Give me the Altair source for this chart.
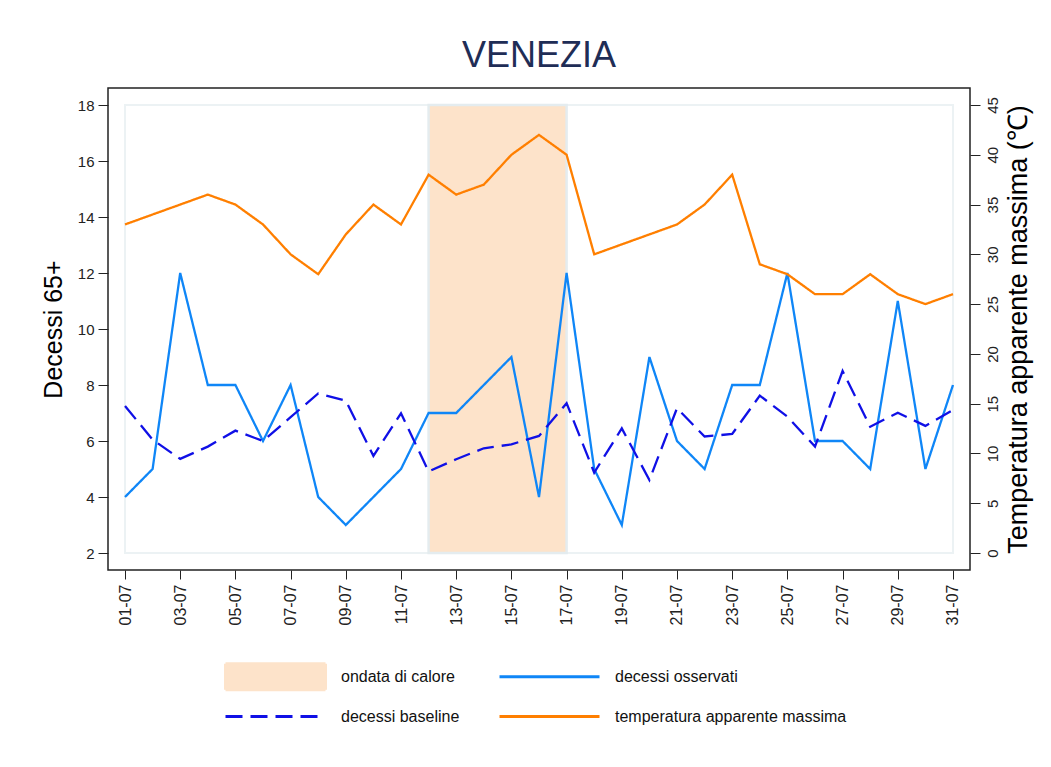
import altair as alt
import pandas as pd

# ---- data ----
days = ["01-07", "02-07", "03-07", "04-07", "05-07", "06-07", "07-07", "08-07",
        "09-07", "10-07", "11-07", "12-07", "13-07", "14-07", "15-07", "16-07",
        "17-07", "18-07", "19-07", "20-07", "21-07", "22-07", "23-07", "24-07",
        "25-07", "26-07", "27-07", "28-07", "29-07", "30-07", "31-07"]
observed = [4, 5, 12, 8, 8, 6, 8, 4, 3, 4, 5, 7, 7, 8, 9, 4, 12, 5, 3, 9, 6, 5,
            8, 8, 12, 6, 6, 5, 11, 5, 8]
baseline = [7.25, 6.05, 5.36, 5.8, 6.37, 6.0, 6.85, 7.7, 7.44, 5.47, 6.99, 4.91,
            5.35, 5.74, 5.88, 6.18, 7.35, 4.87, 6.45, 4.61, 7.17, 6.16, 6.25,
            7.62, 6.87, 5.8, 8.5, 6.51, 7.01, 6.54, 7.11]
temperature = [33, 34, 35, 36, 35, 33, 30, 28, 32, 35, 33, 38, 36, 37, 40, 42,
               40, 30, 31, 32, 33, 35, 38, 29, 28, 26, 26, 28, 26, 25, 26]
tick_days = ["01-07", "03-07", "05-07", "07-07", "09-07", "11-07", "13-07",
             "15-07", "17-07", "19-07", "21-07", "23-07", "25-07", "27-07",
             "29-07", "31-07"]
heatwave_start = ["12-07"]
heatwave_end = ["17-07"]
series_names = ["ondata di calore", "decessi osservati", "decessi baseline",
                "temperatura apparente massima"]
series_colors = ["#fde3ca", "#0f86f7", "#1010e6", "#ff7f00"]
series_dashes = [[1, 0], [1, 0], [17, 8], [1, 0]]
deaths_ticks = [2, 4, 6, 8, 10, 12, 14, 16, 18]
temp_ticks = [0, 5, 10, 15, 20, 25, 30, 35, 40, 45]

# ---- tables ----
deaths_df = pd.concat([
    pd.DataFrame({"giorno": days, "valore": observed, "serie": series_names[1]}),
    pd.DataFrame({"giorno": days, "valore": baseline, "serie": series_names[2]}),
])
temp_df = pd.DataFrame({"giorno": days, "valore": temperature, "serie": series_names[3]})
heat_df = pd.DataFrame({"inizio": heatwave_start, "fine": heatwave_end,
                        "basso": [deaths_ticks[0]], "alto": [deaths_ticks[-1]]})
frame_df = pd.DataFrame({"inizio": [days[0]], "fine": [days[-1]],
                         "basso": [deaths_ticks[0]], "alto": [deaths_ticks[-1]]})

FONT = "Liberation Sans"
INK = "#222222"

x_scale = alt.Scale(type="point", domain=days, padding=0.616)
x_axis = alt.Axis(values=tick_days, title=None, labelAngle=270, labelAlign="right",
                  labelBaseline="middle", labelFontSize=16, labelPadding=5,
                  tickSize=9, labelOverlap=False, domain=False, grid=False)

yl_scale = alt.Scale(domain=[deaths_ticks[0], deaths_ticks[-1]], nice=False, zero=False, padding=17)
yl_axis = alt.Axis(values=deaths_ticks, title="Decessi 65+", titleFontSize=25,
                   titleFontWeight="normal", titleColor="#000", titlePadding=11,
                   labelFontSize=15, labelPadding=4, tickSize=10, domain=False,
                   grid=False, labelOverlap=False)
yr_scale = alt.Scale(domain=[temp_ticks[0], temp_ticks[-1]], nice=False, zero=False, padding=17)
yr_axis = alt.Axis(orient="right", values=temp_ticks,
                   title="Temperatura apparente massima (℃)", titleFontSize=27,
                   titleFontWeight="normal", titleColor="#000", titleAngle=270,
                   titleBaseline="top", titlePadding=5,
                   labelAngle=270, labelAlign="center", labelBaseline="top",
                   labelFontSize=15, labelPadding=5, tickSize=10, domain=False,
                   grid=False, labelOverlap=False)

# legend swatches: a wide line (with the same bounding box as the rectangle) and a wide rectangle
LINE_PATH = "M-5,-1.3M-5,1.3M-5,0H5"
RECT_PATH = "M-5,-1.3H5V1.3H-5Z"
is_heat = "datum.value === 'ondata di calore'"
legend = alt.Legend(
    title=None, orient="none", legendX=118, legendY=577, columns=2,
    direction="horizontal", padding=0,
    symbolType={"expr": f"{is_heat} ? '{RECT_PATH}' : '{LINE_PATH}'"},
    symbolFillColor={"expr": f"{is_heat} ? '{series_colors[0]}' : 'transparent'"},
    symbolSize=400, symbolStrokeWidth=3, symbolOffset=38,
    labelOffset=54, labelFontSize=16, labelFont=FONT, labelColor="#111",
    labelLimit=400, rowPadding=1, columnPadding=33,
)
color_enc = alt.Color("serie:N", scale=alt.Scale(domain=series_names, range=series_colors), legend=legend)
dash_enc = alt.StrokeDash("serie:N", scale=alt.Scale(domain=series_names, range=series_dashes), legend=legend)

frame = alt.Chart(frame_df).mark_rect(fill="transparent", stroke="#ecf2f4", strokeWidth=2).encode(
    x=alt.X("inizio:O", scale=x_scale, axis=x_axis), x2="fine",
    y=alt.Y("basso:Q", scale=yl_scale, axis=yl_axis), y2="alto",
)
heat = alt.Chart(heat_df).mark_rect(fill=series_colors[0], stroke="#e4ecef", strokeWidth=2.5).encode(
    x=alt.X("inizio:O", scale=x_scale, axis=x_axis), x2="fine",
    y=alt.Y("basso:Q", scale=yl_scale, axis=yl_axis), y2="alto",
)
deaths = alt.Chart(deaths_df).mark_line(strokeWidth=2.3).encode(
    x=alt.X("giorno:O", scale=x_scale, axis=x_axis),
    y=alt.Y("valore:Q", scale=yl_scale, axis=yl_axis),
    color=color_enc, strokeDash=dash_enc, detail="serie:N",
)
temp = alt.Chart(temp_df).mark_line(strokeWidth=2.3).encode(
    x=alt.X("giorno:O", scale=x_scale, axis=x_axis),
    y=alt.Y("valore:Q", scale=yr_scale, axis=yr_axis),
    color=color_enc, strokeDash=dash_enc,
)

left = alt.layer(frame, heat, deaths)
chart = alt.layer(left, temp).resolve_scale(y="independent").properties(
    width=862, height=482,
    title=alt.TitleParams("VENEZIA", fontSize=36, font=FONT, fontWeight="normal",
                          color="#1f2d56", anchor="middle", baseline="alphabetic", offset=-15),
    autosize=alt.AutoSizeParams(type="none"),
    padding={"left": 100, "top": 80, "right": 65, "bottom": 180},
).configure(font=FONT, background="white").configure_view(
    stroke=INK, strokeWidth=1.5
).configure_axis(
    labelFont=FONT, titleFont=FONT, labelColor=INK, tickColor=INK, tickWidth=1
)

chart.save("out.html", embed_options={"renderer": "svg", "actions": False})
